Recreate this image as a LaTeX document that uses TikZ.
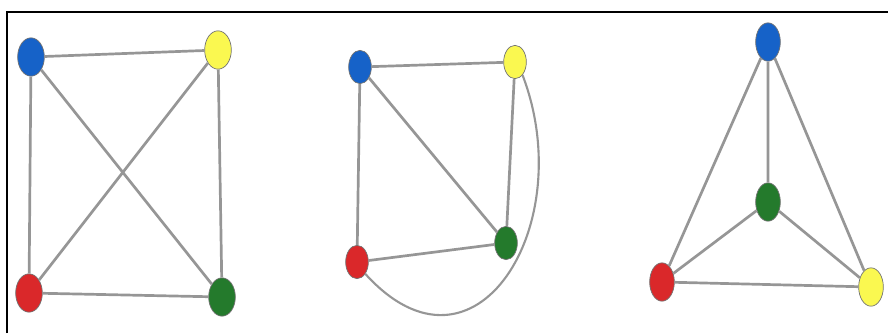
\documentclass[tikz,border=0pt]{standalone}
\usepackage{tikz}
\usetikzlibrary{shapes.geometric}
\definecolor{vblue}{RGB}{22, 98, 200}
\definecolor{vyellow}{RGB}{250, 248, 80}
\definecolor{vred}{RGB}{218, 40, 42}
\definecolor{vgreen}{RGB}{36, 122, 44}
\definecolor{linkgray}{RGB}{150, 150, 150}

\begin{document}
\begin{tikzpicture}[x=0.03cm, y=-0.03cm,
  vertex/.style={ellipse, draw=black!55, line width=0.6pt, inner sep=0pt, minimum width=0.8cm, minimum height=1.15cm},
  small/.style={minimum width=0.68cm, minimum height=1cm},
  link/.style={draw=linkgray, line width=2.3pt}
]
  \useasboundingbox (0,0) rectangle (888,333);
  \draw[line width=1.5pt] (7,333) -- (7,12) -- (888,12);

  \node[vertex, fill=vblue]   (b1) at (31, 57)  {};
  \node[vertex, fill=vyellow] (y1) at (218, 50) {};
  \node[vertex, fill=vred]    (r1) at (29, 293) {};
  \node[vertex, fill=vgreen]  (g1) at (222, 297) {};
  \draw[link] (b1) -- (y1) (b1) -- (r1) (b1) -- (g1)
              (y1) -- (r1) (y1) -- (g1) (r1) -- (g1);

  \node[vertex, small, fill=vblue]   (b2) at (360, 67)  {};
  \node[vertex, small, fill=vyellow] (y2) at (515, 62)  {};
  \node[vertex, small, fill=vgreen]  (g2) at (506, 243) {};
  \node[vertex, small, fill=vred]    (r2) at (357, 262) {};
  \draw[link] (b2) -- (y2) (b2) -- (r2) (b2) -- (g2)
              (y2) -- (g2) (r2) -- (g2);
  \draw[link, line width=1.8pt] (y2.-60) .. controls (580,225) and (475,395) .. (r2.-55);

  \node[vertex, fill=vblue, minimum width=0.74cm]   (b3) at (768, 42)  {};
  \node[vertex, fill=vgreen, minimum width=0.74cm]  (g3) at (768, 202) {};
  \node[vertex, fill=vred, minimum width=0.74cm]    (r3) at (662, 282) {};
  \node[vertex, fill=vyellow, minimum width=0.74cm] (y3) at (871, 287) {};
  \draw[link] (b3) -- (r3) (b3) -- (g3) (b3) -- (y3)
              (g3) -- (r3) (g3) -- (y3) (r3) -- (y3);
\end{tikzpicture}
\end{document}
